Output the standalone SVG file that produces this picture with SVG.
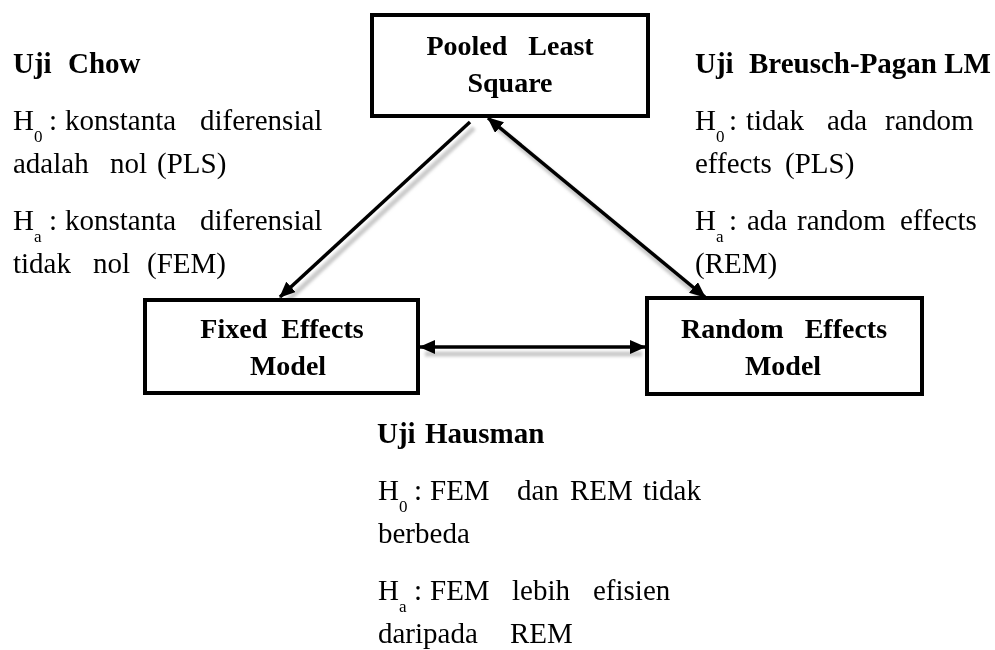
<svg xmlns="http://www.w3.org/2000/svg" width="995" height="650" viewBox="0 0 995 650">
<defs>
<style>
.t{font-family:"Liberation Serif","Times New Roman",serif;font-size:29px;fill:#000;white-space:pre}
.b{font-weight:bold}
.c{text-anchor:middle;font-size:28px}
.sub{font-size:17px}
.box{fill:#fff;stroke:#000;stroke-width:4}
.con{stroke:#000;stroke-width:3.5;fill:none}
.sh{stroke:#9a9a9a;stroke-width:5;fill:none;opacity:0.55}
</style>
<marker id="ah" viewBox="0 0 16 14" refX="15" refY="7" markerWidth="16" markerHeight="14" markerUnits="userSpaceOnUse" orient="auto-start-reverse">
<path d="M0,0 L16,7 L0,14 Z" fill="#000"/>
</marker>
<filter id="blur" x="-10%" y="-10%" width="120%" height="120%"><feGaussianBlur stdDeviation="1.8"/></filter>
</defs>
<rect width="995" height="650" fill="#fff"/>

<g id="connectors">
<g filter="url(#blur)">
<path class="sh" d="M474,128 L286,302"/>
<path class="sh" d="M494,125 L708,303"/>
<path class="sh" d="M425,354 L642,354"/>
</g>
<path class="con" d="M470,122 L280,297" marker-end="url(#ah)"/>
<path class="con" d="M488,118 L705,297" marker-start="url(#ah)" marker-end="url(#ah)"/>
<path class="con" d="M420,347 L645,347" marker-start="url(#ah)" marker-end="url(#ah)"/>
</g>

<g id="pls">
<rect class="box" x="372" y="15" width="276" height="101"/>
<text class="t b c" x="510" y="55">Pooled   Least</text>
<text class="t b c" x="510" y="92">Square</text>
</g>

<g id="fem">
<rect class="box" x="145" y="300" width="273" height="93"/>
<text class="t b c" x="282" y="338">Fixed  Effects</text>
<text class="t b c" x="288" y="375">Model</text>
</g>

<g id="rem">
<rect class="box" x="647" y="298" width="275" height="96"/>
<text class="t b c" x="784" y="338">Random   Effects</text>
<text class="t b c" x="783" y="375">Model</text>
</g>

<g id="uji-chow">
<text class="t b" y="73"><tspan x="13">Uji</tspan><tspan x="68">Chow</tspan></text>
<text class="t" y="130"><tspan x="13">H</tspan><tspan class="sub" x="34" y="142">0</tspan><tspan x="49" y="130">:</tspan><tspan x="65">konstanta</tspan><tspan x="200">diferensial</tspan></text>
<text class="t" y="173"><tspan x="13">adalah</tspan><tspan x="110">nol</tspan><tspan x="157">(PLS)</tspan></text>
<text class="t" y="230"><tspan x="13">H</tspan><tspan class="sub" x="34" y="242">a</tspan><tspan x="49" y="230">:</tspan><tspan x="65">konstanta</tspan><tspan x="200">diferensial</tspan></text>
<text class="t" y="273"><tspan x="13">tidak</tspan><tspan x="93">nol</tspan><tspan x="147">(FEM)</tspan></text>
</g>

<g id="uji-bp">
<text class="t b" y="73"><tspan x="695">Uji</tspan><tspan x="749">Breusch-Pagan LM</tspan></text>
<text class="t" y="130"><tspan x="695">H</tspan><tspan class="sub" x="716" y="142">0</tspan><tspan x="729" y="130">:</tspan><tspan x="746">tidak</tspan><tspan x="827">ada</tspan><tspan x="885">random</tspan></text>
<text class="t" y="173"><tspan x="695">effects</tspan><tspan x="785">(PLS)</tspan></text>
<text class="t" y="230"><tspan x="695">H</tspan><tspan class="sub" x="716" y="242">a</tspan><tspan x="729" y="230">:</tspan><tspan x="747">ada</tspan><tspan x="797">random</tspan><tspan x="900">effects</tspan></text>
<text class="t" y="273"><tspan x="695">(REM)</tspan></text>
</g>

<g id="uji-hausman">
<text class="t b" y="443"><tspan x="377">Uji</tspan><tspan x="425">Hausman</tspan></text>
<text class="t" y="500"><tspan x="378">H</tspan><tspan class="sub" x="399" y="512">0</tspan><tspan x="414" y="500">:</tspan><tspan x="430">FEM</tspan><tspan x="517">dan</tspan><tspan x="570">REM</tspan><tspan x="643">tidak</tspan></text>
<text class="t" y="543"><tspan x="378">berbeda</tspan></text>
<text class="t" y="600"><tspan x="378">H</tspan><tspan class="sub" x="399" y="612">a</tspan><tspan x="414" y="600">:</tspan><tspan x="430">FEM</tspan><tspan x="512">lebih</tspan><tspan x="593">efisien</tspan></text>
<text class="t" y="643"><tspan x="378">daripada</tspan><tspan x="510">REM</tspan></text>
</g>
</svg>
